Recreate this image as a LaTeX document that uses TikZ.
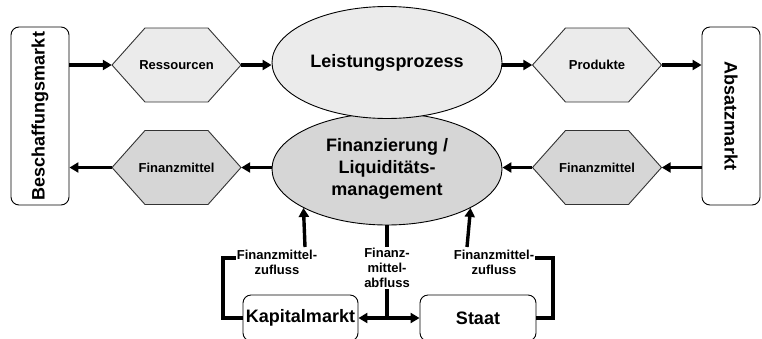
\documentclass[tikz,border=0pt]{standalone}
\usepackage{fontspec}
\setmainfont{Liberation Sans}
\usetikzlibrary{arrows.meta,shapes.geometric}
\definecolor{lightg}{RGB}{235,235,235}
\definecolor{darkg}{RGB}{214,214,214}
\tikzset{
  conn/.style={line width=3.4pt},
  arr/.style={conn,-{Triangle[length=9pt,width=10pt]}},
  darr/.style={conn,{Triangle[length=9pt,width=10pt]}-{Triangle[length=9pt,width=10pt]}},
  market/.style={draw=black,line width=0.9pt,fill=white,rounded corners=8pt,inner sep=0pt,font=\bfseries\fontsize{18}{21}\selectfont},
  proc/.style={ellipse,draw=black,line width=0.9pt,minimum width=230pt,minimum height=112pt,inner sep=0pt,align=center,font=\bfseries\fontsize{18}{22}\selectfont},
  hexlabel/.style={minimum width=129pt,minimum height=74pt,inner sep=0pt,font=\bfseries\fontsize{13}{15}\selectfont},
  hexshape/.style={draw=black!80,line width=0.9pt},
  flowlabel/.style={align=center,inner sep=1pt,font=\bfseries\fontsize{13}{15}\selectfont},
}
\newcommand\hexnode[5]{%
  \filldraw[hexshape,fill=#4] (#2-64.5,#3) -- (#2-31.5,#3-37) -- (#2+31.5,#3-37) -- (#2+64.5,#3) -- (#2+31.5,#3+37) -- (#2-31.5,#3+37) -- cycle;
  \node[hexlabel] (#1) at (#2,#3) {#5};
}
\begin{document}
\begin{tikzpicture}[x=1pt,y=-1pt]
\useasboundingbox (0,0) rectangle (762,338);
\begin{scope}
\clip (0,0) rectangle (762,338);
% markets
\node[market,minimum width=58pt,minimum height=178pt] (B) at (40,116) {\rotatebox{90}{Beschaffungsmarkt}};
\node[market,minimum width=58pt,minimum height=178pt] (A) at (731,116) {\rotatebox{-90}{Absatzmarkt}};
% processes
\node[proc,fill=darkg] (F) at (387,169) {Finanzierung /\\Liquiditäts-\\management};
\node[proc,fill=lightg] (L) at (387,62.5) {Leistungsprozess};
% hexagons
\hexnode{R}{176.5}{65}{lightg}{Ressourcen}
\hexnode{P}{597}{65}{lightg}{Produkte}
\hexnode{FL}{176.5}{167.5}{darkg}{Finanzmittel}
\hexnode{FR}{597}{167.5}{darkg}{Finanzmittel}
% bottom boxes
\node[market,minimum width=115pt,minimum height=46pt] (K) at (300.5,318) {Kapitalmarkt};
\node[market,minimum width=116pt,minimum height=46pt] (S) at (478,318) {Staat};
% labels
\node[flowlabel] (lz) at (277,262) {Finanzmittel-\\zufluss};
\node[flowlabel] (rz) at (494,262) {Finanzmittel-\\zufluss};
\node[flowlabel] (mz) at (387,268) {Finanz-\\mittel-\\abfluss};
% top row arrows
\draw[arr] (B.east |- R.west) -- (R.west);
\draw[arr] (R.east) -- (L.west |- R.east);
\draw[arr] (L.east |- P.west) -- (P.west);
\draw[arr] (P.east) -- (A.west |- P.east);
% bottom row arrows
\draw[arr] (A.west |- FR.east) -- (FR.east);
\draw[arr] (FR.west) -- (F.east |- FR.west);
\draw[arr] (F.west |- FL.east) -- (FL.east);
\draw[arr] (FL.west) -- (B.east |- FL.west);
% lower flows
\draw[conn] (K.west) -| (223,258) -- (lz.west |- 0,258);
\draw[arr] (305,247) coordinate (a1) -- (F.205.4);
\draw[conn] (S.east) -| (553,258) -- (rz.east |- 0,258);
\draw[arr] (467,247) coordinate (a2) -- (F.-25.4);
\draw[conn] (F.south) -- (mz.north);
\draw[conn] (mz.south) -- (mz.south |- K.east);
\draw[darr] (K.east) -- (S.west);
\end{scope}
\end{tikzpicture}
\end{document}
